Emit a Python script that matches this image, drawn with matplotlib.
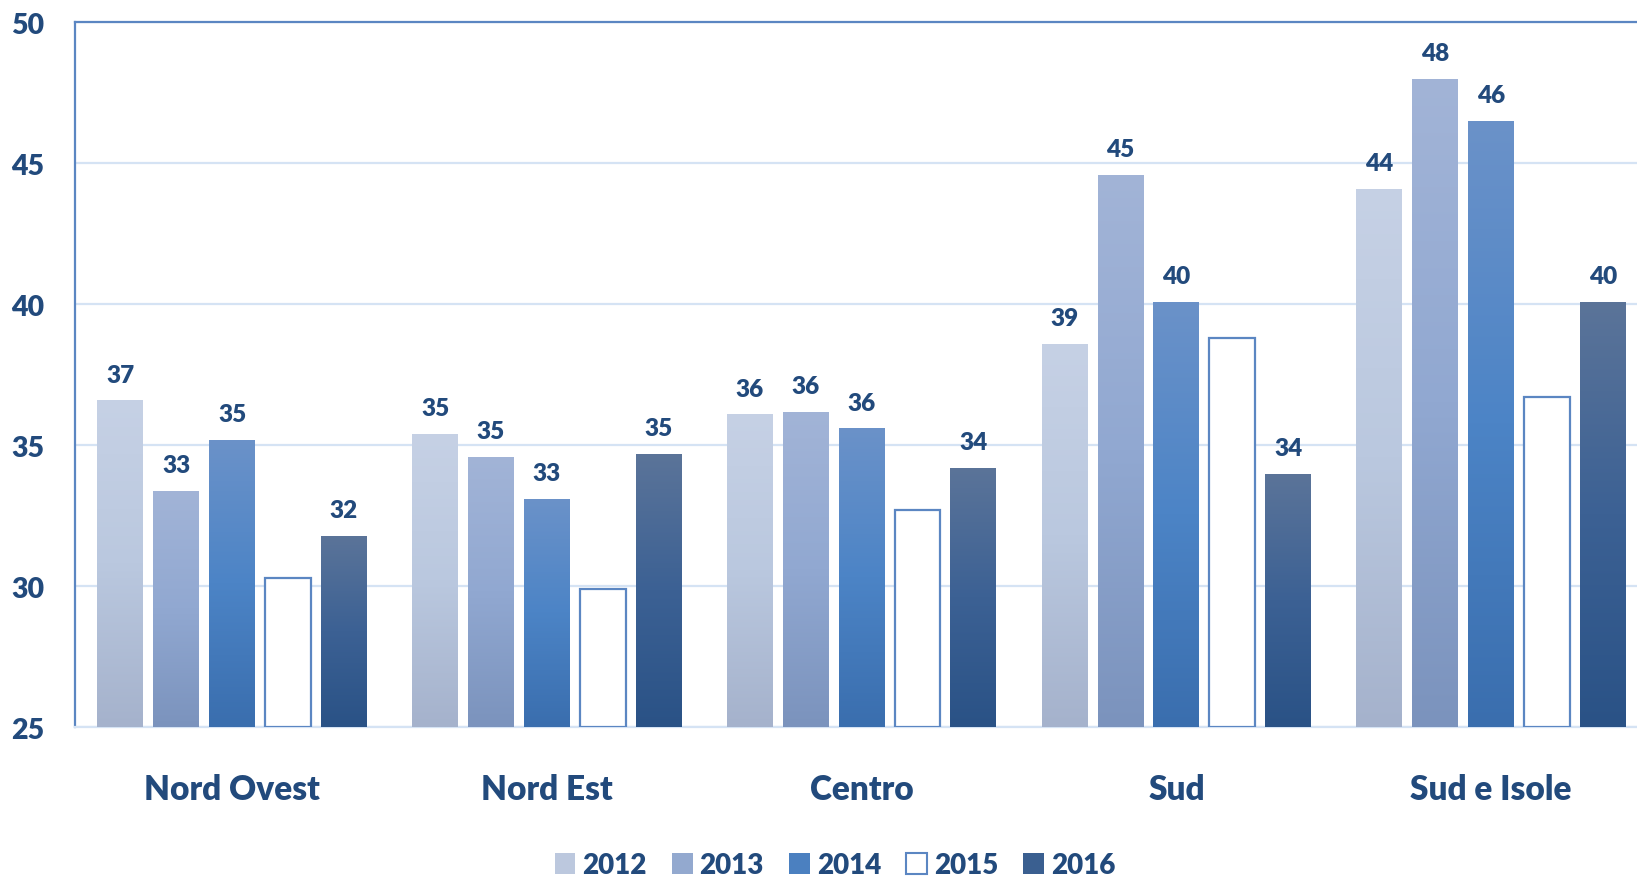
import matplotlib
matplotlib.use("Agg")
import matplotlib.pyplot as plt
import numpy as np
from matplotlib.colors import LinearSegmentedColormap
from matplotlib.patches import Patch

plt.rcParams['font.family'] = ['Lato', 'DejaVu Sans']
plt.rcParams['font.weight'] = 'heavy'

# Regional values per year
regions = ["Nord Ovest", "Nord Est", "Centro", "Sud", "Sud e Isole"]
years = ["2012", "2013", "2014", "2015", "2016"]
v2012 = [36.6, 35.4, 36.1, 38.6, 44.1]
v2013 = [33.4, 34.6, 36.2, 44.6, 48.0]
v2014 = [35.2, 33.1, 35.6, 40.1, 46.5]
v2015 = [30.3, 29.9, 32.7, 38.8, 36.7]
v2016 = [31.8, 34.7, 34.2, 34.0, 40.1]
series = [v2012, v2013, v2014, v2015, v2016]
show_labels = [True, True, True, False, True]

Y_MIN, Y_MAX = 25, 50
TEXT = '#224a7c'

# top -> bottom gradient stops for each year (2015 is an outlined bar)
gradients = [
    ['#c6d1e5', '#bac8df', '#a5b2cc'],
    ['#a2b4d7', '#91a8d1', '#7b93bd'],
    ['#6b92c9', '#4c84c6', '#3a6eae'],
    None,
    ['#5b7499', '#3c6194', '#2a5286'],
]
legend_colors = ['#bcc8de', '#93a9cf', '#4b80c0', 'white', '#3a5f90']

fig = plt.figure(figsize=(16.37, 8.78), dpi=100)
ax = fig.add_axes([74.7 / 1637, 0.1703, 1 - 74.7 / 1637, 0.9735 - 0.1703])

x = np.arange(len(regions))
pitch = 0.1775
width = 0.146
grad = np.linspace(0, 1, 256).reshape(-1, 1)

for i, (vals, stops) in enumerate(zip(series, gradients)):
    pos = x + (i - 2) * pitch
    heights = np.array(vals) - Y_MIN
    if stops is None:
        bars = ax.bar(pos, heights, width, bottom=Y_MIN, facecolor='white',
                      edgecolor='#5b86c2', linewidth=1.6, zorder=3)
    else:
        bars = ax.bar(pos, heights, width, bottom=Y_MIN, facecolor='none',
                      edgecolor='none', zorder=3)
        cmap = LinearSegmentedColormap.from_list('g%d' % i, stops)
        for b in bars:
            bx, by = b.get_x(), b.get_y()
            im = ax.imshow(grad, cmap=cmap, origin='upper', aspect='auto',
                           extent=(bx, bx + b.get_width(), by, by + b.get_height()),
                           zorder=3)
            im.set_clip_path(b)
    if show_labels[i]:
        for p, v in zip(pos, vals):
            ax.annotate('{:.0f}'.format(v), (p, v), xytext=(0, 13.5),
                        textcoords='offset points', ha='center', va='baseline',
                        fontsize=17.5, fontweight='heavy', color=TEXT)

ax.set_xlim(-0.5, -0.5 + (1637 - 74.7) / (301.5 * 1637 / 1568))
ax.set_ylim(Y_MIN, Y_MAX)
ax.set_yticks(np.arange(25, 51, 5))
ax.set_xticks(x)
ax.set_xticklabels(regions)
ax.tick_params(axis='y', length=0, pad=22, labelsize=20.5, labelcolor=TEXT)
ax.tick_params(axis='x', length=0, pad=32.5, labelsize=24, labelcolor=TEXT)

ax.grid(axis='y', color='#d5e3f4', linewidth=1.6, zorder=0)
ax.set_axisbelow(True)
ax.spines['right'].set_visible(False)
ax.spines['left'].set_color('#5b86c2')
ax.spines['top'].set_color('#5b86c2')
ax.spines['left'].set_linewidth(1.6)
ax.spines['top'].set_linewidth(1.6)
ax.spines['bottom'].set_color('#d5e3f4')
ax.spines['bottom'].set_linewidth(1.6)

handles = []
for c in legend_colors:
    if c == 'white':
        handles.append(Patch(facecolor='white', edgecolor='#5b86c2', linewidth=1.5))
    else:
        handles.append(Patch(facecolor=c, edgecolor='none'))
fig.legend(handles, years, loc='lower center', bbox_to_anchor=(0.51, -0.03),
           ncol=5, frameon=False, handlelength=0.75,
           handleheight=0.75, handletextpad=0.25, columnspacing=0.9,
           labelcolor=TEXT, prop={'weight': 'heavy', 'size': 20})

fig.savefig('out.png', dpi=100, facecolor='white')
